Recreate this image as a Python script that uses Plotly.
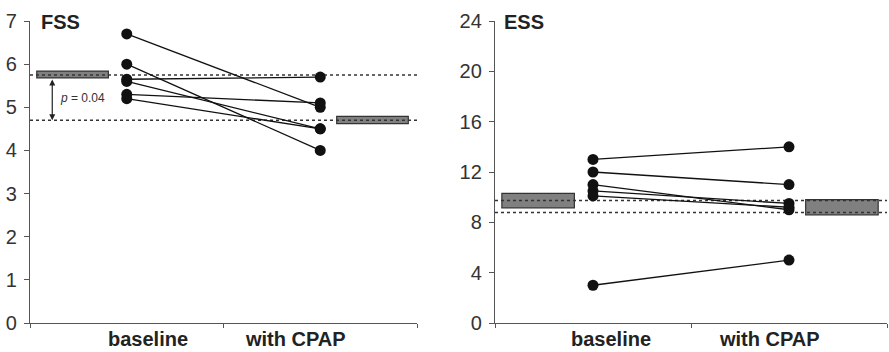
import plotly.graph_objects as go

# ---------------- data ----------------
categories = ["baseline", "with CPAP"]

fss_baseline = [6.7, 6.0, 5.65, 5.6, 5.3, 5.2]
fss_cpap     = [5.0, 4.0, 5.7, 4.5, 5.1, 4.5]
fss_mean     = [5.75, 4.70]          # dotted reference lines
fss_box_lo   = [5.68, 4.62]
fss_box_hi   = [5.84, 4.79]
fss_p_text   = "p = 0.04"

ess_baseline = [13.0, 12.0, 11.0, 10.5, 10.1, 3.0]
ess_cpap     = [14.0, 11.0, 9.0, 9.5, 9.2, 5.0]
ess_mean     = [9.73, 8.78]
ess_box_lo   = [9.15, 8.6]
ess_box_hi   = [10.3, 9.8]

fss_ticks = [0, 1, 2, 3, 4, 5, 6, 7]
ess_ticks = [0, 4, 8, 12, 16, 20, 24]

# ---------------- layout constants ----------------
W, H = 889, 352
X_BASE, X_CPAP = 0.5, 1.5
BOX_X = [0.22, 1.77]
BOX_W = 0.37
LABEL_X = {"x": [0.61, 1.37], "x2": [0.59, 1.40]}

FONT = "Liberation Sans, Arial, sans-serif"
AX_COLOR = "#555555"
TXT = "#222222"

def px(v, total):
    return v / total

fig = go.Figure()

panels = [
    ("x", "y", fss_baseline, fss_cpap, fss_mean, fss_box_lo, fss_box_hi),
    ("x2", "y2", ess_baseline, ess_cpap, ess_mean, ess_box_lo, ess_box_hi),
]

for xa, ya, b, c, m, lo, hi in panels:
    # mean boxes
    fig.add_trace(go.Bar(
        x=BOX_X, y=[h - l for h, l in zip(hi, lo)], base=lo, width=BOX_W,
        marker=dict(color="#808080", line=dict(color="#333333", width=1.2)),
        xaxis=xa, yaxis=ya, showlegend=False, hoverinfo="skip"))
    # dotted reference lines
    for mv in m:
        fig.add_trace(go.Scatter(
            x=[0, 2], y=[mv, mv], mode="lines",
            line=dict(color="#333333", width=1.5, dash="dot"),
            xaxis=xa, yaxis=ya, showlegend=False, hoverinfo="skip", cliponaxis=False))
    # individual subjects
    for vb, vc in zip(b, c):
        fig.add_trace(go.Scatter(
            x=[X_BASE, X_CPAP], y=[vb, vc], mode="lines+markers",
            line=dict(color="#111111", width=1.3),
            marker=dict(color="#111111", size=11),
            xaxis=xa, yaxis=ya, showlegend=False, cliponaxis=False))

# domains (pixel based)
y_dom = [px(H - 323, H), px(H - 21, H)]
x1_dom = [px(30, W), px(417, W)]
x2_dom = [px(495, W), px(887, W)]

xcommon = dict(range=[0, 2], tickvals=[0, 1, 2], ticktext=["", "", ""],
               ticks="outside", ticklen=4, tickcolor=AX_COLOR, tickwidth=1.3,
               showline=True, linecolor=AX_COLOR, linewidth=1.3,
               showgrid=False, zeroline=False, fixedrange=True, automargin=False)
ycommon = dict(ticks="outside", ticklen=5, tickcolor=AX_COLOR, tickwidth=1.3,
               showline=True, linecolor=AX_COLOR, linewidth=1.3,
               showgrid=False, zeroline=False, automargin=False,
               tickfont=dict(family=FONT, size=20, color="#333333"),
               ticklabelstandoff=3)

fig.update_layout(
    width=W, height=H,
    margin=dict(l=0, r=0, t=0, b=0, autoexpand=False),
    paper_bgcolor="white", plot_bgcolor="white",
    font=dict(family=FONT, color=TXT),
    showlegend=False,
    xaxis=dict(domain=x1_dom, anchor="y", **xcommon),
    yaxis=dict(domain=y_dom, anchor="x", range=[0, 7], tickvals=fss_ticks, **ycommon),
    xaxis2=dict(domain=x2_dom, anchor="y2", **xcommon),
    yaxis2=dict(domain=y_dom, anchor="x2", range=[0, 24], tickvals=ess_ticks, **ycommon),
    barmode="overlay",
)

annotations = []
# category labels
for xa in ["x", "x2"]:
    for lx, cat in zip(LABEL_X[xa], categories):
        annotations.append(dict(
            x=lx, xref=xa, y=px(H - 339, H), yref="paper", yanchor="middle",
            text=f"<b>{cat}</b>", showarrow=False,
            font=dict(family=FONT, size=20, color=TXT)))
# panel titles
annotations.append(dict(x=px(39, W), y=px(H - 22, H), xref="paper", yref="paper",
                        xanchor="left", yanchor="middle", text="<b>FSS</b>",
                        showarrow=False, font=dict(family=FONT, size=20, color=TXT)))
annotations.append(dict(x=px(502, W), y=px(H - 22, H), xref="paper", yref="paper",
                        xanchor="left", yanchor="middle", text="<b>ESS</b>",
                        showarrow=False, font=dict(family=FONT, size=20, color=TXT)))
# p-value double arrow
annotations.append(dict(x=0.115, y=fss_mean[1], xref="x", yref="y",
                        ax=0.115, ay=fss_box_lo[0], axref="x", ayref="y",
                        showarrow=True, arrowhead=2, startarrowhead=2,
                        arrowside="end+start", arrowsize=1.0, startarrowsize=1.0,
                        arrowwidth=1.2, arrowcolor="#222222", text=""))
annotations.append(dict(x=0.145, y=(fss_mean[0] + fss_mean[1]) / 2 - 0.01, xref="x", yref="y",
                        xanchor="left", yanchor="middle",
                        text="<i>p</i> = 0.04", showarrow=False,
                        font=dict(family=FONT, size=12, color="#333333")))
fig.update_layout(annotations=annotations)

fig.write_html("out.html")
